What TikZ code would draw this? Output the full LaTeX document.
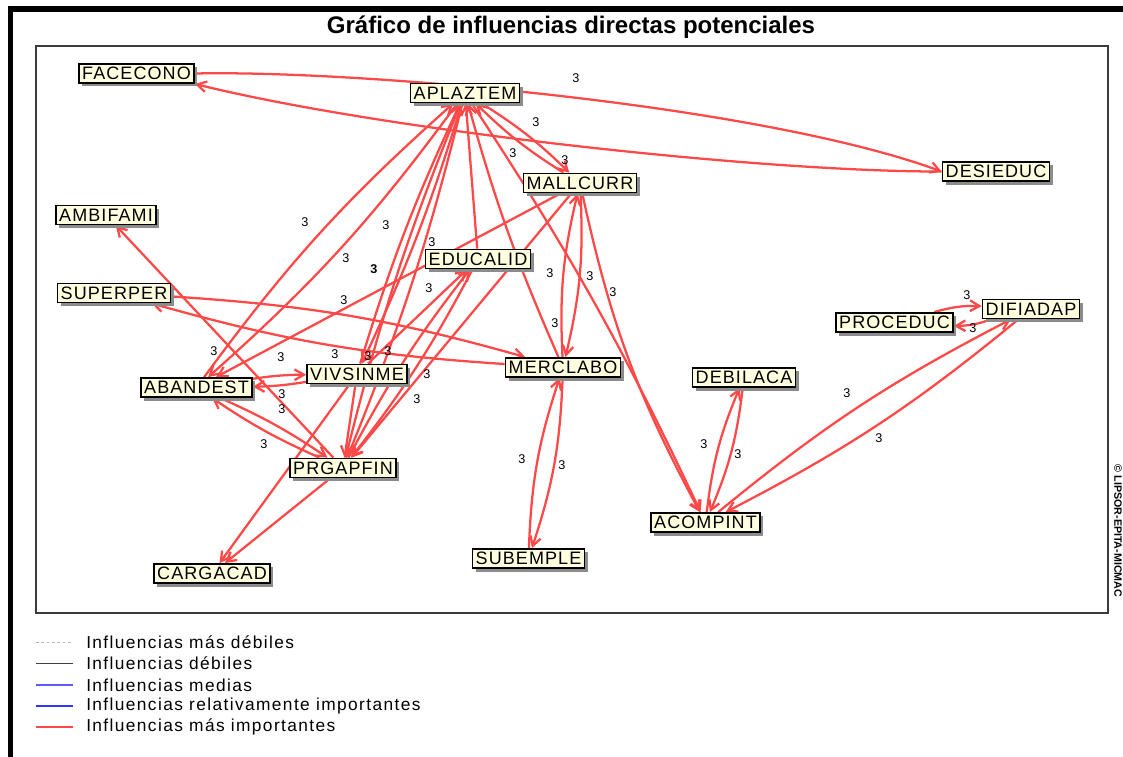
\documentclass[tikz,border=0pt]{standalone}
\usepackage{fontspec}
\setmainfont{Liberation Sans}
\newfontfamily\legfam{Liberation Sans}[LetterSpace=8]
\newfontfamily\varfam{Liberation Sans}[LetterSpace=6]
\usetikzlibrary{arrows.meta,shadows,backgrounds}
\definecolor{infred}{RGB}{255,72,72}
\definecolor{cream}{RGB}{255,255,224}
\definecolor{framegray}{RGB}{60,60,60}
\definecolor{legblue}{RGB}{90,90,255}
\tikzset{
  var/.style={draw=black, line width=1.1pt, fill=cream, font=\varfam\fontsize{13.5}{14}\selectfont,
    inner xsep=2.5pt, inner ysep=2pt, text height=10pt, text depth=0.5pt,
    drop shadow={shadow xshift=2.5pt, shadow yshift=-2.5pt, fill=black!45, opacity=1}},
  infl/.style={draw=infred, line width=1.7pt, -{Straight Barb[length=7pt,width=8pt]}},
  val/.style={font=\fontsize{9.5}{10}\selectfont, inner sep=0pt},
  legtext/.style={font=\legfam\fontsize{13}{14}\selectfont, anchor=west, inner sep=0pt}
}
\begin{document}
\begin{tikzpicture}[x=0.75pt,y=-0.75pt]
\useasboundingbox (0,0) rectangle (1123,756);

% frames and title
\draw[line width=3.8pt, line join=miter] (10.5,760) -- (10.5,9) -- (1130,9);
\draw[framegray, line width=1.1pt] (36,46) rectangle (1108,613);
\node[font=\bfseries\fontsize{18}{20}\selectfont] (title) at (571,27) {Gráfico de influencias directas potenciales};
\node[rotate=-90, font=\bfseries\fontsize{8}{9}\selectfont] (credit) at (1118,531) {© LIPSOR-EPITA-MICMAC};

% variables
\node[var] (FACECONO) at (136.5,73.5) {FACECONO};
\node[var] (APLAZTEM) at (465,93) {APLAZTEM};
\node[var] (DESIEDUC) at (996,171.5) {DESIEDUC};
\node[var] (MALLCURR) at (580,183) {MALLCURR};
\node[var] (AMBIFAMI) at (106,215) {AMBIFAMI};
\node[var] (EDUCALID) at (478,259) {EDUCALID};
\node[var] (SUPERPER) at (114,293) {SUPERPER};
\node[var] (PROCEDUC) at (894.5,322.5) {PROCEDUC};
\node[var] (DIFIADAP) at (1031,309) {DIFIADAP};
\node[var] (MERCLABO) at (563,367.5) {MERCLABO};
\node[var] (DEBILACA) at (744,377.5) {DEBILACA};
\node[var] (ABANDEST) at (196.5,387.5) {ABANDEST};
\node[var] (VIVSINME) at (357,374) {VIVSINME};
\node[var] (PRGAPFIN) at (343,468) {PRGAPFIN};
\node[var] (CARGACAD) at (212,573.5) {CARGACAD};
\node[var] (SUBEMPLE) at (528.5,558.5) {SUBEMPLE};
\node[var] (ACOMPINT) at (705.5,522.5) {ACOMPINT};

% influences
\begin{scope}[on background layer]
\draw[infl] (FACECONO.east) .. controls (360,70) and (760,105) .. (DESIEDUC.west);
\draw[infl] (DESIEDUC.west) .. controls (760,172) and (380,130) .. (FACECONO.south east);
\draw[infl] (APLAZTEM) to[bend left=6] (MALLCURR);
\draw[infl] (MALLCURR) to[bend left=6] (APLAZTEM);
\draw[infl] (APLAZTEM) to[bend left=4] (ACOMPINT);
\draw[infl] (MERCLABO) to[bend left=4] (APLAZTEM);
\draw[infl] (APLAZTEM) to[bend left=6] (ABANDEST);
\draw[infl] (ABANDEST) to[bend left=6] (APLAZTEM);
\draw[infl] (APLAZTEM) to[bend left=4] (VIVSINME);
\draw[infl] (VIVSINME) to[bend left=4] (APLAZTEM);
\draw[infl] (APLAZTEM) to[bend left=4] (PRGAPFIN);
\draw[infl] (PRGAPFIN) to[bend left=4] (APLAZTEM);
\draw[infl] (EDUCALID) to (APLAZTEM);
\draw[infl] (MALLCURR) to[bend left=8] (MERCLABO);
\draw[infl] (MERCLABO) to[bend left=8] (MALLCURR);
\draw[infl] (MALLCURR) to[bend right=8] (ACOMPINT);
\draw[infl] (MALLCURR) to (ABANDEST);
\draw[infl] (MALLCURR) to (PRGAPFIN);
\draw[infl] (VIVSINME) to (EDUCALID);
\draw[infl] (PRGAPFIN) to[bend left=5] (EDUCALID);
\draw[infl] (EDUCALID) to[bend left=5] (PRGAPFIN);
\draw[infl] (SUPERPER) to[bend left=6] (MERCLABO);
\draw[infl] (MERCLABO) to[bend left=6] (SUPERPER);
\draw[infl] (ABANDEST) to[bend left=4] (VIVSINME);
\draw[infl] (VIVSINME) to[bend left=4] (ABANDEST);
\draw[infl] (ABANDEST) to[bend left=5] (PRGAPFIN);
\draw[infl] (PRGAPFIN) to[bend left=5] (ABANDEST);
\draw[infl] (PRGAPFIN) to (AMBIFAMI);
\draw[infl] (PRGAPFIN) to (CARGACAD);
\draw[infl] (VIVSINME) to (CARGACAD);
\draw[infl] (VIVSINME) to (PRGAPFIN);
\draw[infl] (MERCLABO) to[bend left=8] (SUBEMPLE);
\draw[infl] (SUBEMPLE) to[bend left=8] (MERCLABO);
\draw[infl] (ACOMPINT) to[bend left=8] (DEBILACA);
\draw[infl] (DEBILACA) to[bend left=8] (ACOMPINT);
\draw[infl] (ACOMPINT) to[bend left=6] (DIFIADAP);
\draw[infl] (DIFIADAP) to[bend left=6] (ACOMPINT);
\draw[infl] (PROCEDUC) to[bend left=9] (DIFIADAP);
\draw[infl] (DIFIADAP) to[bend left=9] (PROCEDUC);
\end{scope}

% values
\node[val] (v1) at (576,78) {3};
\node[val] (v2) at (536,122) {3};
\node[val] (v3) at (513,153) {3};
\node[val] (v4) at (565,160) {3};
\node[val] (v5) at (305,222) {3};
\node[val] (v6) at (386,225) {3};
\node[val] (v7) at (432,242) {3};
\node[val] (v8) at (346,258) {3};
\node[val, font=\bfseries\fontsize{9.5}{10}\selectfont] (v9) at (374,269) {3};
\node[val] (v10) at (550,273) {3};
\node[val] (v11) at (590,276) {3};
\node[val] (v12) at (613,292) {3};
\node[val] (v13) at (344,300) {3};
\node[val] (v14) at (429,288) {3};
\node[val] (v15) at (555,323) {3};
\node[val] (v16) at (214,351) {3};
\node[val] (v17) at (281,357) {3};
\node[val] (v18) at (335,354) {3};
\node[val] (v19) at (368,356) {3};
\node[val] (v20) at (388,351) {3};
\node[val] (v21) at (427,374) {3};
\node[val] (v22) at (417,399) {3};
\node[val] (v23) at (282,394) {3};
\node[val] (v24) at (282,409) {3};
\node[val] (v25) at (264,444) {3};
\node[val] (v26) at (522,459) {3};
\node[val] (v27) at (562,465) {3};
\node[val] (v28) at (704,444) {3};
\node[val] (v29) at (738,454) {3};
\node[val] (v30) at (847,393) {3};
\node[val] (v31) at (879,438) {3};
\node[val] (v32) at (967,295) {3};
\node[val] (v33) at (973,328) {3};

% legend
\draw[gray!60, dash pattern=on 2pt off 2pt, line width=0.6pt] (36,642) -- (73,642);
\draw[black!75, line width=0.7pt] (36,663) -- (73,663);
\draw[legblue, line width=0.8pt] (36,685) -- (73,685);
\draw[blue!80, line width=1.8pt] (36,706) -- (73,706);
\draw[infred, line width=1.8pt] (36,727) -- (73,727);
\node[legtext] (leg1) at (86,642) {Influencias más débiles};
\node[legtext] (leg2) at (86,663) {Influencias débiles};
\node[legtext] (leg3) at (86,685) {Influencias medias};
\node[legtext] (leg4) at (86,706) {Influencias relativamente importantes};
\node[legtext] (leg5) at (86,727) {Influencias más importantes};
\end{tikzpicture}
\end{document}
